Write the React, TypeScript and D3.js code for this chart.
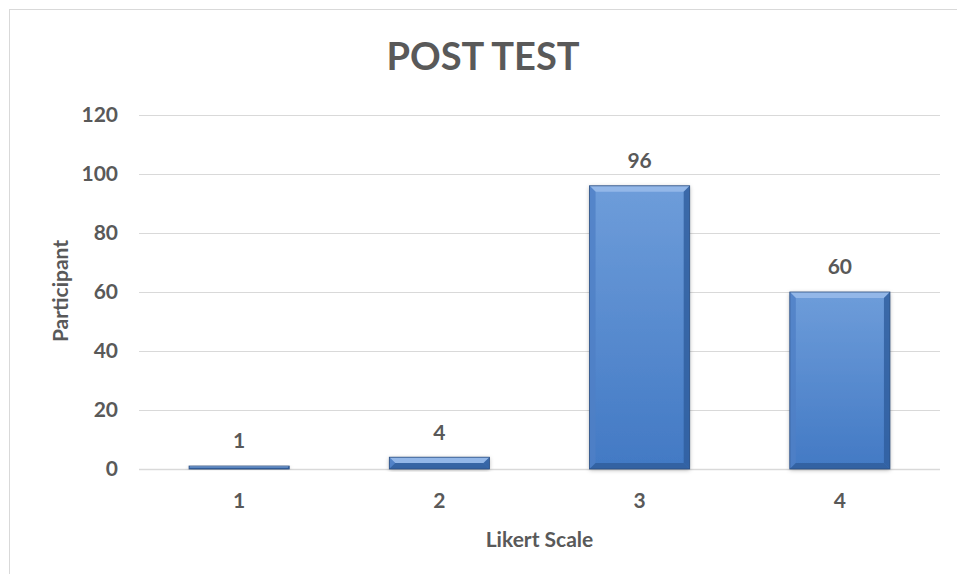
import React from "react";
import * as d3 from "d3";

const categories = ["1", "2", "3", "4"];
const values = [1, 4, 96, 60];
const yTicks = [0, 20, 40, 60, 80, 100, 120];
const title = "POST TEST";
const xTitle = "Likert Scale";
const yTitle = "Participant";

const W = 957;
const H = 574;
const FONT = "Lato, 'Open Sans', sans-serif";
const TXT = "#595959";
const FS = 21;

export default function App() {
  const left = 139;
  const right = 940;
  const top = 115;
  const bottom = 469;
  const x = d3.scaleBand<string>().domain(categories).range([left, right]).paddingInner(0.5).paddingOuter(0.25);
  const y = d3.scaleLinear().domain([0, 120]).range([bottom, top]);
  const bw = x.bandwidth();

  return (
    <svg width={W} height={H} style={{ position: "absolute", left: 0, top: 0 }}>
      <defs>
        <linearGradient id="face" x1="0" y1="0" x2="0" y2="1">
          <stop offset="0" stopColor="#6e9dda" />
          <stop offset="1" stopColor="#4279c4" />
        </linearGradient>
        <filter id="sh" x="-20%" y="-20%" width="140%" height="140%">
          <feDropShadow dx="0" dy="1" stdDeviation="2" floodColor="#000" floodOpacity="0.3" />
        </filter>
      </defs>
      <rect x={0} y={0} width={W} height={H} fill="#fff" />
      <rect x={9.5} y={9.5} width={W} height={H} fill="none" stroke="#d9d9d9" strokeWidth={1} />
      <text x={483} y={57} dy="0.35em" textAnchor="middle" fontFamily={FONT} fontWeight="bold" fontSize={38} fill={TXT}>
        {title}
      </text>
      {yTicks.map((t) => (
        <g key={t}>
          <line x1={left} x2={right} y1={Math.round(y(t)) + 0.5} y2={Math.round(y(t)) + 0.5} stroke="#d9d9d9" strokeWidth={t === 0 ? 1.5 : 1} />
          <text x={118} y={y(t)} dy="0.35em" textAnchor="end" fontFamily={FONT} fontWeight="bold" fontSize={FS} fill={TXT}>
            {t}
          </text>
        </g>
      ))}
      {categories.map((c, i) => {
        const x0 = x(c)!;
        const x1 = x0 + bw;
        const y0 = y(values[i]);
        const y1 = y(0);
        const h = y1 - y0;
        const b = Math.min(6, h / 2);
        return (
          <g key={c}>
            <g filter="url(#sh)">
              <rect x={x0} y={y0} width={bw} height={h} fill="url(#face)" />
            </g>
            <polygon points={`${x0},${y0} ${x1},${y0} ${x1 - b},${y0 + b} ${x0 + b},${y0 + b}`} fill="#93b7e8" />
            <polygon points={`${x0},${y0} ${x0 + b},${y0 + b} ${x0 + b},${y1 - b} ${x0},${y1}`} fill="#4f80c6" opacity={0.8} />
            <polygon points={`${x1},${y0} ${x1 - b},${y0 + b} ${x1 - b},${y1 - b} ${x1},${y1}`} fill="#2e5c9c" opacity={0.8} />
            <polygon points={`${x0},${y1} ${x0 + b},${y1 - b} ${x1 - b},${y1 - b} ${x1},${y1}`} fill="#2f5d9a" opacity={0.8} />
            <rect x={x0} y={y0} width={bw} height={h} fill="none" stroke="#2b4e80" strokeWidth={0.8} />
            <text x={x0 + bw / 2} y={y0 - 25} dy="0.35em" textAnchor="middle" fontFamily={FONT} fontWeight="bold" fontSize={FS} fill={TXT}>
              {values[i]}
            </text>
            <text x={x0 + bw / 2} y={501} dy="0.35em" textAnchor="middle" fontFamily={FONT} fontWeight="bold" fontSize={FS} fill={TXT}>
              {c}
            </text>
          </g>
        );
      })}
      <text x={(left + right) / 2} y={540} dy="0.35em" textAnchor="middle" fontFamily={FONT} fontWeight="bold" fontSize={FS} fill={TXT}>
        {xTitle}
      </text>
      <text transform={`translate(61,${291}) rotate(-90)`} dy="0.35em" textAnchor="middle" fontFamily={FONT} fontWeight="bold" fontSize={FS} fill={TXT}>
        {yTitle}
      </text>
    </svg>
  );
}
